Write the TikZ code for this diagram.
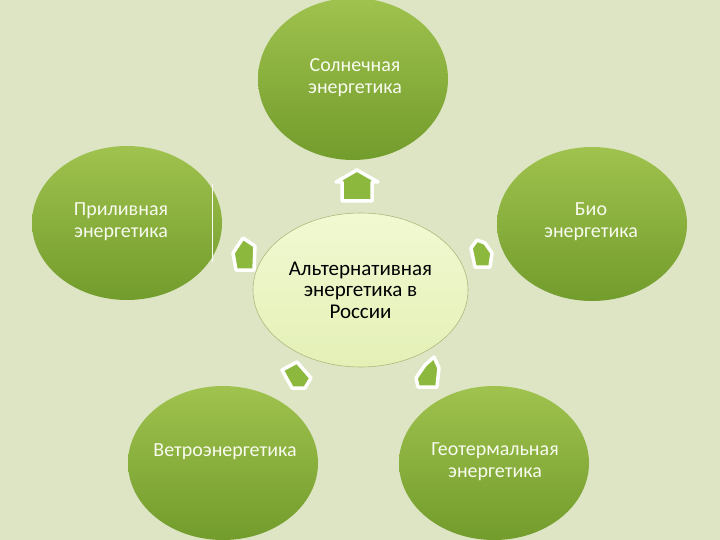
\documentclass[tikz,border=0pt]{standalone}
\usepackage{fontspec}
\setmainfont{Carlito}
\usetikzlibrary{shapes.geometric}
\definecolor{bgc}{HTML}{DDE5C5}
\definecolor{outtop}{HTML}{A0C24E}
\definecolor{outbot}{HTML}{729C2C}
\definecolor{arrg}{HTML}{8DB83E}
\definecolor{midtop}{HTML}{F1F9D2}
\definecolor{midbot}{HTML}{E4F0B6}
\definecolor{midline}{HTML}{A9BB7C}
\definecolor{txtw}{HTML}{F8FBEF}
\tikzset{
  outer/.style={ellipse, inner sep=0pt, minimum width=190pt, minimum height=154pt,
    top color=outtop, bottom color=outbot, draw=none},
  outtext/.style={text=txtw, align=center, font=\fontsize{20}{22}\selectfont},
  midell/.style={ellipse, inner sep=0pt, minimum width=215pt, minimum height=154pt,
    top color=midtop, bottom color=midbot, draw=midline, line width=0.6pt},
  midtext/.style={text=black, align=center, font=\fontsize{21}{21.5}\selectfont},
  arrowshape/.style={fill=arrg, draw=white, line width=3.5pt, line join=round}
}
\begin{document}
\begin{tikzpicture}[x=1pt,y=-1pt]
\fill[bgc] (0,0) rectangle (720,540);
\useasboundingbox (0,0) rectangle (720,540);
% outer ellipses
\node[outer, minimum height=162pt] (sun) at (353,79) {};
\node[outer] (tide) at (127,223) {};
\node[outer] (bio) at (592,224) {};
\node[outer] (wind) at (223,463) {};
\node[outer] (geo) at (494,463) {};
% artifact line near left ellipse
\draw[white!85!bgc, line width=1pt] (212,184) -- (212,262);
% center
\node[midell] (mid) at (360.5,290) {};
\node[midtext] (midt) at (360.5,290) {Альтернативная\\энергетика в\\России};
% texts
\node[outtext] (sunt) at (355,78) {Солнечная\\энергетика};
\node[outtext] (tidet) at (121,222) {Приливная\\энергетика};
\node[outtext] (biot) at (591,222) {Био\\энергетика};
\node[outtext] (windt) at (225,452) {Ветроэнергетика};
\node[outtext] (geot) at (495,462) {Геотермальная\\энергетика};
% arrows
\filldraw[arrowshape] (357,170) -- (336,182) -- (342,182) -- (342,201) -- (372,201) -- (372,182) -- (378,182) -- cycle;
\filldraw[arrowshape] (243,238) -- (255,246) -- (254,270) -- (236,270) -- (233,253) -- cycle;
\filldraw[arrowshape] (477,240) -- (485,243) -- (492,253) -- (490,267) -- (475,267) -- (471,248) -- cycle;
\filldraw[arrowshape] (297,362) -- (311,378) -- (305,388) -- (292,388) -- (282,370) -- cycle;
\filldraw[arrowshape] (434,357) -- (439,368) -- (437,387) -- (418,387) -- (416,378) -- (425,365) -- cycle;
\end{tikzpicture}
\end{document}
